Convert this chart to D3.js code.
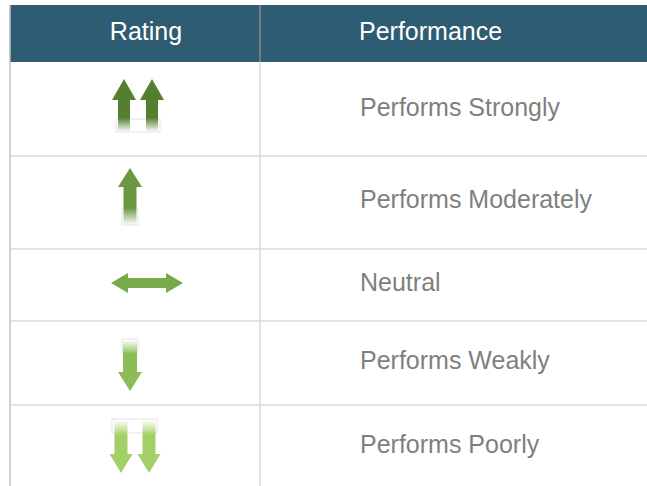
<!DOCTYPE html>
<html>
<head>
<meta charset="utf-8">
<script src="https://cdn.jsdelivr.net/npm/d3@7"></script>
<style>
  body { margin: 0; background: #fff; }
  svg { display: block; }
  text { font-family: "Liberation Sans", Arial, sans-serif; }
</style>
</head>
<body>
<div class="canvas"></div>
<script>
// table content
const headers = ['Rating', 'Performance'];
const ratings = ['up2', 'up1', 'flat', 'down1', 'down2'];
const labels = ['Performs Strongly', 'Performs Moderately', 'Neutral', 'Performs Weakly', 'Performs Poorly'];
const arrowColors = ['#537f2f', '#6a9841', '#78a94a', '#8bbc55', '#a3d066'];

const W = 647, H = 486;
const svg = d3.select('.canvas')
  .append('svg')
  .attr('width', W)
  .attr('height', H);

const defs = svg.append('defs');

// layout of the table
const left = 10, divX = 260;
const headTop = 5, headBottom = 62;
const rowEdges = [62, 156, 249, 321, 405, 500];
const textY = [116, 208, 291, 369, 453];

// header band
svg.append('rect')
  .attr('x', left).attr('y', headTop)
  .attr('width', W - left).attr('height', headBottom - headTop)
  .attr('fill', '#2e5c73');

svg.append('line')
  .attr('x1', divX).attr('x2', divX)
  .attr('y1', headTop).attr('y2', headBottom)
  .attr('stroke', '#8a8a8a').attr('stroke-width', 1.5);

svg.append('line')
  .attr('x1', left).attr('x2', left)
  .attr('y1', headTop).attr('y2', H)
  .attr('stroke', '#bfbfbf').attr('stroke-width', 1.5);

svg.selectAll('.head')
  .data(headers)
  .join('text')
  .attr('x', (d, i) => i === 0 ? 146 : 359)
  .attr('y', 40)
  .attr('text-anchor', (d, i) => i === 0 ? 'middle' : 'start')
  .attr('font-size', 25)
  .attr('fill', '#ffffff')
  .text(d => d);

// row separators
svg.selectAll('.sep')
  .data(rowEdges.slice(1, -1))
  .join('line')
  .attr('x1', left).attr('x2', W)
  .attr('y1', d => d).attr('y2', d => d)
  .attr('stroke', '#d9d9d9').attr('stroke-width', 1.5);

svg.append('line')
  .attr('x1', divX).attr('x2', divX)
  .attr('y1', headBottom).attr('y2', H)
  .attr('stroke', '#d9d9d9').attr('stroke-width', 1.5);

svg.selectAll('.label')
  .data(labels)
  .join('text')
  .attr('x', 360)
  .attr('y', (d, i) => textY[i])
  .attr('font-size', 25)
  .attr('fill', '#7f7f7f')
  .text(d => d);

// vertical arrow: shaft half width sw, head half width hw
function vArrow(cx, tipY, headY, endY, sw, hw) {
  return `M${cx},${tipY} L${cx + hw},${headY} L${cx + sw},${headY} L${cx + sw},${endY} ` +
         `L${cx - sw},${endY} L${cx - sw},${headY} L${cx - hw},${headY} Z`;
}

function fadeGradient(id, color, fromY, toY) {
  const g = defs.append('linearGradient')
    .attr('id', id)
    .attr('gradientUnits', 'userSpaceOnUse')
    .attr('x1', 0).attr('x2', 0)
    .attr('y1', fromY).attr('y2', toY);
  g.append('stop').attr('offset', 0).attr('stop-color', color).attr('stop-opacity', 1);
  g.append('stop').attr('offset', 0.55).attr('stop-color', color).attr('stop-opacity', 1);
  g.append('stop').attr('offset', 1).attr('stop-color', color).attr('stop-opacity', 0);
}

const ag = svg.append('g');
ratings.forEach((r, i) => {
  const c = arrowColors[i];
  if (r === 'up2') {
    fadeGradient('g' + i, c, 100, 132);
    ag.append('rect').attr('x', 116).attr('y', 119).attr('width', 44).attr('height', 13)
      .attr('fill', 'none').attr('stroke', '#e4e4e4').attr('stroke-width', 1);
    [124, 152].forEach(cx => ag.append('path')
      .attr('d', vArrow(cx, 79, 100, 132, 6, 12))
      .attr('fill', `url(#g${i})`));
  } else if (r === 'up1') {
    fadeGradient('g' + i, c, 187, 225);
    ag.append('rect').attr('x', 122).attr('y', 208).attr('width', 16).attr('height', 17)
      .attr('fill', 'none').attr('stroke', '#e4e4e4').attr('stroke-width', 1);
    ag.append('path')
      .attr('d', vArrow(130, 168, 187, 225, 6.5, 12))
      .attr('fill', `url(#g${i})`);
  } else if (r === 'flat') {
    const cy = 283;
    ag.append('path')
      .attr('d', `M111,${cy} L128,${cy - 10} L128,${cy - 5} L166,${cy - 5} L166,${cy - 10} L183,${cy} ` +
                 `L166,${cy + 10} L166,${cy + 5} L128,${cy + 5} L128,${cy + 10} Z`)
      .attr('fill', c);
  } else if (r === 'down1') {
    fadeGradient('g' + i, c, 372, 340);
    ag.append('rect').attr('x', 122).attr('y', 339).attr('width', 16).attr('height', 14)
      .attr('fill', 'none').attr('stroke', '#e4e4e4').attr('stroke-width', 1);
    ag.append('path')
      .attr('d', vArrow(130, 391, 372, 340, 7, 12))
      .attr('fill', `url(#g${i})`);
  } else if (r === 'down2') {
    fadeGradient('g' + i, c, 454, 420);
    ag.append('rect').attr('x', 112).attr('y', 419).attr('width', 45).attr('height', 14)
      .attr('fill', 'none').attr('stroke', '#e4e4e4').attr('stroke-width', 1);
    [121, 149].forEach(cx => ag.append('path')
      .attr('d', vArrow(cx, 473, 454, 420, 6.5, 11.5))
      .attr('fill', `url(#g${i})`));
  }
});
</script>
</body>
</html>
